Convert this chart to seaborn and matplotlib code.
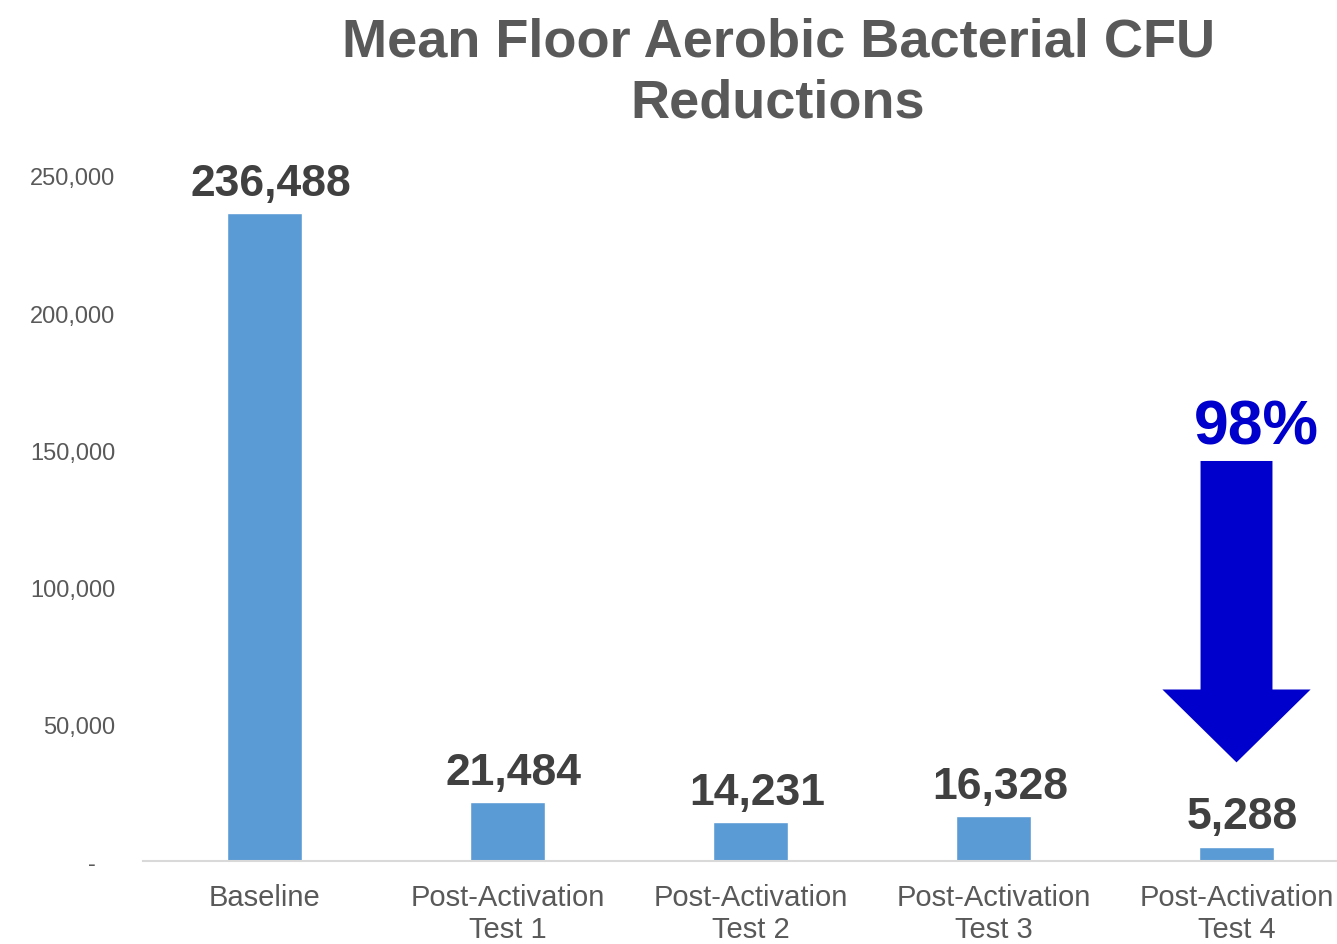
import matplotlib
matplotlib.use("Agg")
import matplotlib.pyplot as plt
from matplotlib.patches import FancyArrow
import seaborn as sns

# chart data
categories = ["Baseline", "Post-Activation\nTest 1", "Post-Activation\nTest 2",
              "Post-Activation\nTest 3", "Post-Activation\nTest 4"]
cfu_values = [236488, 21484, 14231, 16328, 5288]
reduction_label = "98%"
yticks = [0, 50000, 100000, 150000, 200000, 250000]

sns.set_style("white")
plt.rcParams["font.family"] = ["Liberation Sans", "DejaVu Sans"]

fig = plt.figure(figsize=(13.37, 9.45), dpi=100)
ax = fig.add_axes([0.107, 0.0878, 1.0157 - 0.107, 0.8127 - 0.0878])

sns.barplot(x=categories, y=cfu_values, color="#5B9BD5", saturation=1,
            width=0.31, ax=ax)

ax.set_xlim(-0.5, 4.5)
ax.set_ylim(0, 250000)
ax.set_yticks(yticks)
ax.set_yticklabels(["-   " if v == 0 else f"{v:,}" for v in yticks])
ax.tick_params(axis="y", length=0, pad=20, labelsize=17, labelcolor="#595959")
ax.tick_params(axis="x", length=0, pad=16, labelsize=21, labelcolor="#595959")
for lbl in ax.get_xticklabels():
    lbl.set_linespacing(1.15)
ax.set_xlabel("")
ax.set_ylabel("")

for side in ["top", "right", "left"]:
    ax.spines[side].set_visible(False)
ax.spines["bottom"].set_color("#D9D9D9")
ax.spines["bottom"].set_linewidth(1.5)
ax.spines["bottom"].set_clip_on(False)

# value labels over the bars
for i, v in enumerate(cfu_values):
    ax.annotate(f"{v:,}", (i, v), xytext=(4.5, 13), textcoords="offset points",
                ha="center", va="baseline", fontsize=32, fontweight="bold",
                color="#404040")

# big reduction arrow over the last bar
arrow = FancyArrow(4, 146000, 0, -110000, width=0.296, head_width=0.61,
                   head_length=26600, length_includes_head=True,
                   color="#0000CC", lw=0)
ax.add_patch(arrow)
ax.text(4.08, 152500, reduction_label, ha="center", va="baseline",
        fontsize=45, fontweight="bold", color="#0000CC")

fig.text(0.582, 0.981, "Mean Floor Aerobic Bacterial CFU\nReductions",
         ha="center", va="top", fontsize=39, fontweight="bold",
         color="#595959", linespacing=1.27)

fig.savefig("out.png", dpi=100)
